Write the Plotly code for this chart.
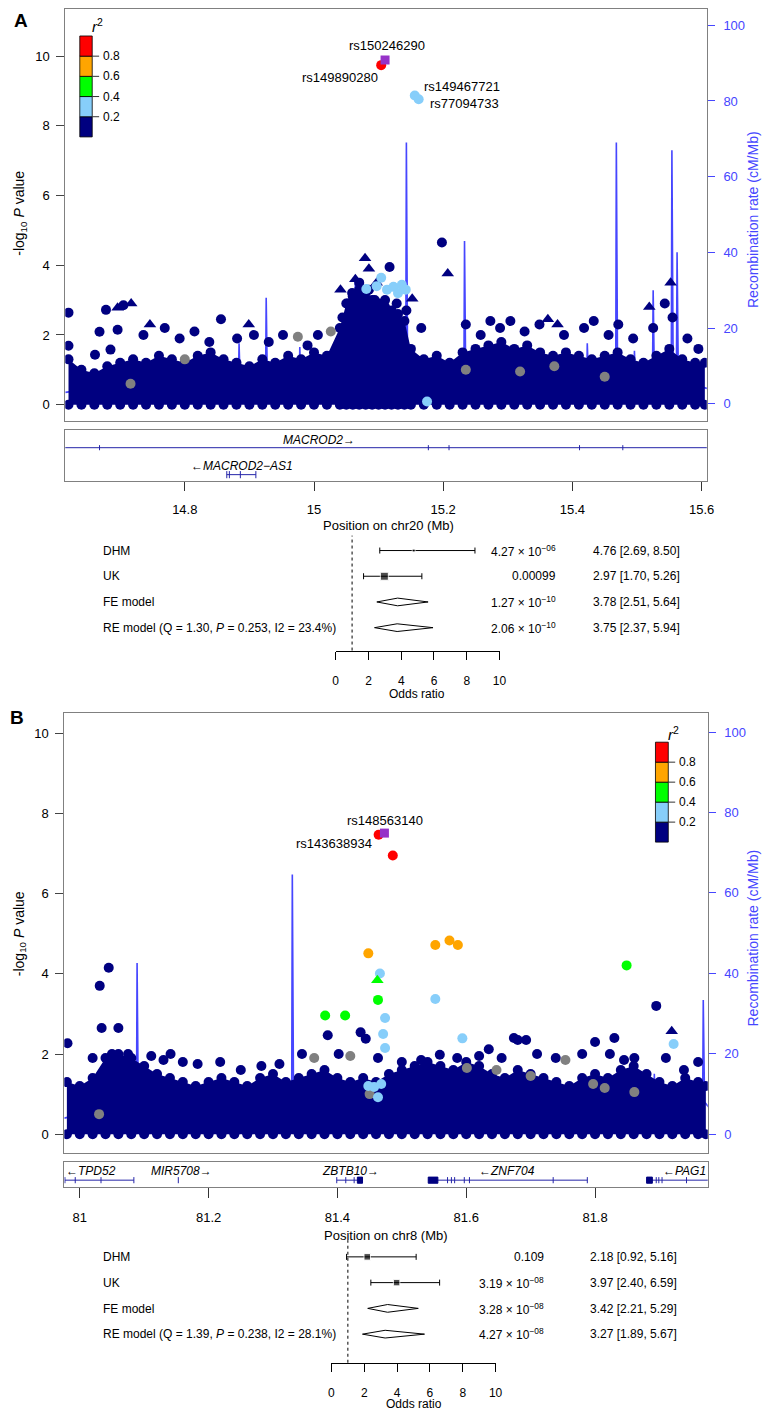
import plotly.graph_objects as go

W, H = 773, 1415
PAGE = 8  # default body margin of the html page
FONT = "Liberation Sans, Arial, Helvetica, sans-serif"
FRAME = "#808080"
BLUE = "#4646ff"
NAVY = "#000080"
LBLUE = "#87cefa"
GREEN = "#00ff00"
ORANGE = "#ffa500"
RED = "#ff0000"
PURPLE = "#9632c8"
GRAY = "#808080"
GENE = "#2424a8"

# LD key (r^2 bins, low to high)
ld_breaks = ["0.2", "0.4", "0.6", "0.8"]
ld_colors = [NAVY, LBLUE, GREEN, ORANGE, RED]

# ---------------- panel A : chr20 ----------------
a_xrange = [14.615, 15.608]
a_ticks = [14.8, 15.0, 15.2, 15.4, 15.6]
a_ticktext = ["14.8", "15", "15.2", "15.4", "15.6"]

# top edge of the dense cloud of low-LD SNPs
a_env_pos = [14.620, 14.640, 14.660, 14.680, 14.700, 14.720, 14.740, 14.760, 14.780, 14.800,
             14.820, 14.840, 14.860, 14.880, 14.900, 14.920, 14.940, 14.960, 14.980, 15.000,
             15.020, 15.040, 15.050, 15.060, 15.070, 15.080, 15.090, 15.100, 15.110, 15.120,
             15.130, 15.140, 15.150, 15.170, 15.190, 15.210, 15.230, 15.250, 15.270, 15.290,
             15.310, 15.330, 15.350, 15.370, 15.390, 15.410, 15.430, 15.450, 15.470, 15.490,
             15.510, 15.530, 15.550, 15.570, 15.590, 15.605]
a_env_logp = [1.3, 1.0, 0.9, 1.1, 1.2, 1.3, 1.2, 1.4, 1.3, 1.2,
              1.4, 1.5, 1.3, 1.2, 1.1, 1.3, 1.2, 1.4, 1.3, 1.5,
              1.4, 2.2, 2.9, 3.1, 3.3, 3.2, 3.0, 2.9, 2.8, 2.7,
              2.6, 2.4, 1.6, 1.3, 1.4, 1.2, 1.5, 1.6, 1.7, 1.8,
              1.6, 1.7, 1.5, 1.4, 1.5, 1.4, 1.3, 1.4, 1.5, 1.3,
              1.2, 1.4, 1.6, 1.3, 1.2, 1.2]

a_navy_pos = [14.620, 14.620, 14.678, 14.696, 14.668, 14.661, 14.685, 14.705, 14.736, 14.769,
              14.792, 14.815, 14.838, 14.856, 14.881, 14.907, 14.930, 14.952, 14.990, 15.006,
              15.044, 15.052, 15.059, 15.070, 15.085, 15.094, 15.117, 15.110, 15.128, 15.143,
              15.166, 15.198, 15.235, 15.258, 15.273, 15.288, 15.304, 15.326, 15.349, 15.387,
              15.418, 15.433, 15.456, 15.471, 15.494, 15.525, 15.543, 15.555, 15.578, 15.595]
a_navy_logp = [2.64, 1.69, 2.72, 2.15, 2.09, 1.43, 1.58, 2.85, 2.0, 2.2,
               1.9, 2.1, 1.8, 2.45, 1.9, 2.0, 1.8, 2.0, 1.7, 2.0,
               2.5, 2.9, 3.2, 3.5, 3.3, 3.0, 3.95, 3.0, 2.9, 2.7,
               2.2, 4.65, 2.3, 2.0, 2.4, 2.2, 2.4, 2.1, 2.3, 2.0,
               2.2, 2.4, 2.0, 2.3, 1.9, 2.2, 2.9, 2.5, 1.9, 1.6]
a_tri_pos = [14.696, 14.717, 14.746, 14.899, 15.041, 15.064, 15.079, 15.085, 15.097, 15.152,
             15.207, 15.362, 15.377, 15.519, 15.552]
a_tri_logp = [2.78, 2.9, 2.3, 2.3, 3.3, 3.6, 4.2, 3.9, 3.5, 3.04,
              3.76, 2.45, 2.3, 2.8, 3.5]
a_gray_pos = [14.975, 15.026, 14.800, 15.319, 15.372, 15.235, 14.716, 15.45]
a_gray_logp = [1.95, 2.1, 1.3, 0.95, 1.1, 1.0, 0.6, 0.8]
a_lblue_pos = [15.156, 15.162, 15.081, 15.104, 15.097, 15.113, 15.123, 15.136, 15.130, 15.142, 15.175]
a_lblue_logp = [8.87, 8.76, 3.32, 3.64, 3.4, 3.3, 3.38, 3.44, 3.2, 3.3, 0.09]
a_red_pos = [15.104]
a_red_logp = [9.74]
a_lead_pos = [15.110]
a_lead_logp = [9.89]

a_rec_pos = [14.615, 14.700, 14.750, 14.800, 14.883, 14.884, 14.886, 14.925, 14.926, 14.928,
             14.977, 14.978, 14.980, 15.020, 15.063, 15.064, 15.066, 15.100, 15.142, 15.143,
             15.145, 15.180, 15.232, 15.233, 15.235, 15.300, 15.353, 15.354, 15.356, 15.422,
             15.423, 15.425, 15.467, 15.468, 15.470, 15.495, 15.496, 15.498, 15.524, 15.525,
             15.527, 15.553, 15.554, 15.556, 15.561, 15.562, 15.564, 15.610]
a_rec_rate = [3, 5, 2, 4, 6, 16, 4, 5, 28, 3,
              4, 15, 3, 6, 8, 34, 10, 12, 10, 69,
              5, 3, 6, 43, 4, 3, 4, 14, 3, 5,
              16, 6, 4, 69, 5, 6, 14, 4, 8, 30,
              5, 6, 67, 8, 8, 40, 6, 4]

a_macrod2_span = [14.50, 15.70]
a_macrod2_exons = [14.668, 15.177, 15.209, 15.411, 15.478]
a_as1_span = [14.865, 14.910]
a_as1_exons = [14.865, 14.869, 14.886, 14.910]

a_studies = ["DHM", "UK", "FE model", "RE model (Q = 1.30, <i>P</i> = 0.253, I2 = 23.4%)"]
a_or = [4.76, 2.97, 3.78, 3.75]
a_lo = [2.69, 1.70, 2.51, 2.37]
a_hi = [8.50, 5.26, 5.64, 5.94]
a_p = ["4.27 × 10<sup>−06</sup>", "0.00099", "1.27 × 10<sup>−10</sup>", "2.06 × 10<sup>−10</sup>"]
a_ci = ["4.76 [2.69, 8.50]", "2.97 [1.70, 5.26]", "3.78 [2.51, 5.64]", "3.75 [2.37, 5.94]"]
a_wsize = [3, 8]

# ---------------- panel B : chr8 ----------------
b_xrange = [80.976, 81.975]
b_ticks = [81.0, 81.2, 81.4, 81.6, 81.8]
b_ticktext = ["81", "81.2", "81.4", "81.6", "81.8"]

b_env_pos = [80.98, 81.00, 81.02, 81.04, 81.06, 81.08, 81.10, 81.12, 81.14, 81.16,
             81.18, 81.20, 81.22, 81.24, 81.26, 81.28, 81.30, 81.32, 81.34, 81.36,
             81.38, 81.40, 81.42, 81.44, 81.46, 81.48, 81.50, 81.52, 81.54, 81.56,
             81.58, 81.60, 81.62, 81.64, 81.66, 81.68, 81.70, 81.72, 81.74, 81.76,
             81.78, 81.80, 81.82, 81.84, 81.86, 81.88, 81.90, 81.92, 81.94, 81.96, 81.972]
b_env_logp = [1.3, 1.2, 1.4, 1.9, 2.0, 1.9, 1.7, 1.5, 1.4, 1.3,
              1.2, 1.3, 1.4, 1.3, 1.2, 1.4, 1.5, 1.3, 1.4, 1.5,
              1.6, 1.4, 1.3, 1.4, 1.3, 1.5, 1.6, 1.7, 1.8, 1.7,
              1.6, 1.8, 1.7, 1.5, 1.4, 1.6, 1.5, 1.4, 1.3, 1.2,
              1.4, 1.5, 1.4, 1.6, 1.7, 1.5, 1.3, 1.2, 1.4, 1.3, 1.2]

b_navy_pos = [80.981, 81.031, 81.045, 81.034, 81.060, 81.020, 81.050, 81.075, 81.111, 81.130,
              81.141, 81.160, 81.183, 81.218, 81.250, 81.282, 81.310, 81.345, 81.385, 81.402,
              81.436, 81.444, 81.463, 81.500, 81.530, 81.559, 81.586, 81.620, 81.635, 81.655,
              81.674, 81.680, 81.693, 81.710, 81.739, 81.780, 81.800, 81.823, 81.830, 81.845,
              81.861, 81.895, 81.910, 81.938, 81.960]
b_navy_logp = [2.27, 3.70, 4.15, 2.65, 2.65, 1.9, 2.0, 2.0, 1.95, 1.85,
               2.0, 1.8, 1.75, 1.8, 1.6, 1.7, 1.75, 2.0, 2.47, 2.0,
               2.54, 2.38, 1.9, 1.8, 1.85, 1.98, 1.9, 1.95, 2.12, 1.9,
               2.40, 2.35, 2.35, 2.0, 1.9, 2.0, 2.3, 2.0, 2.4, 1.85,
               1.9, 3.2, 1.9, 1.6, 1.8]
b_tri_pos = [81.919]
b_tri_logp = [2.57]
b_gray_pos = [81.364, 81.420, 81.601, 81.647, 81.700, 81.754, 81.797, 81.815, 81.861, 81.030, 81.450]
b_gray_logp = [1.9, 1.95, 1.65, 1.6, 1.45, 1.85, 1.25, 1.15, 1.05, 0.5, 1.0]
b_lblue_pos = [81.466, 81.552, 81.474, 81.471, 81.474, 81.594, 81.922, 81.448, 81.457, 81.463, 81.468]
b_lblue_logp = [4.01, 3.37, 2.90, 2.50, 2.15, 2.39, 2.25, 1.20, 1.18, 0.92, 1.25]
b_green_pos = [81.463, 81.381, 81.412, 81.849]
b_green_logp = [3.35, 2.96, 2.96, 4.21]
b_gtri_pos = [81.462]
b_gtri_logp = [3.84]
b_orange_pos = [81.448, 81.552, 81.574, 81.587]
b_orange_logp = [4.51, 4.72, 4.83, 4.72]
b_red_pos = [81.464, 81.486]
b_red_logp = [7.47, 6.95]
b_lead_pos = [81.473]
b_lead_logp = [7.51]

b_rec_pos = [80.976, 81.030, 81.088, 81.089, 81.091, 81.150, 81.250, 81.329, 81.330, 81.332,
             81.400, 81.500, 81.626, 81.627, 81.629, 81.730, 81.731, 81.733, 81.800, 81.891,
             81.892, 81.894, 81.967, 81.968, 81.970, 81.980]
b_rec_rate = [4, 6, 5, 42.6, 5, 3, 4, 6, 64.6, 5,
              3, 4, 4, 12, 3, 4, 11, 3, 5, 5,
              15, 4, 6, 33.4, 8, 6]

b_tpd52_span = [80.977, 81.084]
b_tpd52_exons = [80.977, 80.993, 81.033, 81.084]
b_mir_exons = [81.153]
b_zbtb10_span = [81.399, 81.439]
b_zbtb10_exons = [81.399, 81.413, 81.426]
b_zbtb10_box = [81.431, 81.439]
b_znf704_span = [81.541, 81.788]
b_znf704_exons = [81.571, 81.577, 81.582, 81.597, 81.605, 81.735, 81.788]
b_znf704_box = [81.541, 81.556]
b_pag1_span = [81.880, 82.100]
b_pag1_exons = [81.895, 81.899, 81.904, 81.942]
b_pag1_box = [81.880, 81.889]

b_studies = ["DHM", "UK", "FE model", "RE model (Q = 1.39, <i>P</i> = 0.238, I2 = 28.1%)"]
b_or = [2.18, 3.97, 3.42, 3.27]
b_lo = [0.92, 2.40, 2.21, 1.89]
b_hi = [5.16, 6.59, 5.29, 5.67]
b_p = ["0.109", "3.19 × 10<sup>−08</sup>", "3.28 × 10<sup>−08</sup>", "4.27 × 10<sup>−08</sup>"]
b_ci = ["2.18 [0.92, 5.16]", "3.97 [2.40, 6.59]", "3.42 [2.21, 5.29]", "3.27 [1.89, 5.67]"]
b_wsize = [6.5, 6.5]

or_ticks = [0, 2, 4, 6, 8, 10]
logp_ticks = [0, 2, 4, 6, 8, 10]
rec_ticks = [0, 20, 40, 60, 80, 100]

# the figure sits PAGE px in from the page corner, so map page pixels onto it
FW, FH = W - PAGE, H - PAGE


def X(p):
    return min(1.0, max(0.0, (p - PAGE) / FW))


def Y(p):
    return min(1.0, max(0.0, 1 - (p - PAGE) / FH))


fig = go.Figure()
annotations = []
shapes = []


def note(text, x, y, size=13, xanchor="center", color="black", angle=0, yanchor="middle"):
    annotations.append(dict(text=text, x=X(x), y=Y(y), xref="paper", yref="paper",
                            showarrow=False, xanchor=xanchor, yanchor=yanchor,
                            textangle=angle, font=dict(size=size, color=color, family=FONT)))


def dots(x, y, color, xa, ya, symbol="circle", size=10):
    fig.add_trace(go.Scatter(x=x, y=y, mode="markers", xaxis=xa, yaxis=ya, hoverinfo="skip",
                             marker=dict(color=color, size=size, symbol=symbol, line=dict(width=0))))


def locus(xa, ya_rec, ya_p, env_pos, env_logp, rec_pos, rec_rate, groups):
    fig.add_trace(go.Scatter(x=rec_pos, y=rec_rate, mode="lines", xaxis=xa, yaxis=ya_rec,
                             line=dict(color=BLUE, width=1.6), hoverinfo="skip"))
    fig.add_trace(go.Scatter(x=env_pos, y=env_logp, mode="lines+markers", fill="tozeroy",
                             fillcolor=NAVY, line=dict(color=NAVY, width=0), xaxis=xa, yaxis=ya_p,
                             marker=dict(color=NAVY, size=10), hoverinfo="skip"))
    dots(env_pos, [0.0 for _ in env_pos], NAVY, xa, ya_p)
    for gx, gy, col, sym, sz in groups:
        dots(gx, gy, col, xa, ya_p, sym, sz)


def gene_line(xa, ya, span, exons, yc, half, box=None):
    fig.add_trace(go.Scatter(x=span, y=[yc, yc], mode="lines", xaxis=xa, yaxis=ya,
                             line=dict(color=GENE, width=1), hoverinfo="skip"))
    ex, ey = [], []
    for e in exons:
        ex += [e, e, None]
        ey += [yc - half, yc + half, None]
    fig.add_trace(go.Scatter(x=ex, y=ey, mode="lines", xaxis=xa, yaxis=ya,
                             line=dict(color=GENE, width=1), hoverinfo="skip"))
    if box:
        fig.add_trace(go.Scatter(x=[box[0], box[1], box[1], box[0], box[0]],
                                 y=[yc - half, yc - half, yc + half, yc + half, yc - half],
                                 mode="lines", fill="toself", fillcolor=NAVY, xaxis=xa, yaxis=ya,
                                 line=dict(color=NAVY, width=1), hoverinfo="skip"))


def forest(xa, ya, ors, los, his, wsize):
    fig.add_trace(go.Scatter(x=ors[:2], y=[0, 1], mode="markers", xaxis=xa, yaxis=ya,
                             marker=dict(symbol="square", size=wsize, color="black"),
                             error_x=dict(type="data", symmetric=False,
                                          array=[h - o for h, o in zip(his[:2], ors[:2])],
                                          arrayminus=[o - l for o, l in zip(ors[:2], los[:2])],
                                          color="black", thickness=1, width=3),
                             hoverinfo="skip"))
    for i in (2, 3):
        fig.add_trace(go.Scatter(x=[los[i], ors[i], his[i], ors[i], los[i]],
                                 y=[i, i - 0.15, i, i + 0.15, i], mode="lines", fill="toself",
                                 fillcolor="white", line=dict(color="black", width=1),
                                 xaxis=xa, yaxis=ya, hoverinfo="skip"))
    shapes.append(dict(type="line", xref=xa, yref=ya + " domain", x0=1, x1=1, y0=0, y1=1,
                       line=dict(color="black", width=1, dash="dot")))


def ld_key(x0, x1, top, band):
    for i, c in enumerate(ld_colors):
        y0 = top + (4 - i) * band
        shapes.append(dict(type="rect", xref="paper", yref="paper", x0=X(x0), x1=X(x1),
                           y0=Y(y0 + band), y1=Y(y0), fillcolor=c,
                           line=dict(color="black", width=0.8)))
    for k, lab in enumerate(ld_breaks):
        yb = top + (4 - k) * band
        shapes.append(dict(type="line", xref="paper", yref="paper", x0=X(x1), x1=X(x1 + 7),
                           y0=Y(yb), y1=Y(yb), line=dict(color="#333333", width=1)))
        note(lab, x1 + 9, yb, size=12, xanchor="left")


# ---- panel A traces ----
locus("x", "y", "y2", a_env_pos, a_env_logp, a_rec_pos, a_rec_rate, [
    (a_navy_pos, a_navy_logp, NAVY, "circle", 10),
    (a_tri_pos, a_tri_logp, NAVY, "triangle-up", 11),
    (a_gray_pos, a_gray_logp, GRAY, "circle", 10),
    (a_lblue_pos, a_lblue_logp, LBLUE, "circle", 10),
    (a_red_pos, a_red_logp, RED, "circle", 10),
    (a_lead_pos, a_lead_logp, PURPLE, "square", 9),
])
gene_line("x2", "y3", a_macrod2_span, a_macrod2_exons, 0.647, 0.05)
gene_line("x2", "y3", a_as1_span, a_as1_exons, 0.118, 0.07)
forest("x3", "y4", a_or, a_lo, a_hi, a_wsize)

# ---- panel B traces ----
locus("x4", "y5", "y6", b_env_pos, b_env_logp, b_rec_pos, b_rec_rate, [
    (b_navy_pos, b_navy_logp, NAVY, "circle", 10),
    (b_tri_pos, b_tri_logp, NAVY, "triangle-up", 11),
    (b_gray_pos, b_gray_logp, GRAY, "circle", 10),
    (b_lblue_pos, b_lblue_logp, LBLUE, "circle", 10),
    (b_green_pos, b_green_logp, GREEN, "circle", 10),
    (b_gtri_pos, b_gtri_logp, GREEN, "triangle-up", 11),
    (b_orange_pos, b_orange_logp, ORANGE, "circle", 10),
    (b_red_pos, b_red_logp, RED, "circle", 10),
    (b_lead_pos, b_lead_logp, PURPLE, "square", 9),
])
gene_line("x5", "y7", b_tpd52_span, b_tpd52_exons, 0.285, 0.12)
gene_line("x5", "y7", [b_mir_exons[0], b_mir_exons[0]], b_mir_exons, 0.285, 0.12)
gene_line("x5", "y7", b_zbtb10_span, b_zbtb10_exons, 0.285, 0.12, b_zbtb10_box)
gene_line("x5", "y7", b_znf704_span, b_znf704_exons, 0.285, 0.12, b_znf704_box)
gene_line("x5", "y7", b_pag1_span, b_pag1_exons, 0.285, 0.12, b_pag1_box)
forest("x6", "y8", b_or, b_lo, b_hi, b_wsize)

# ---- text ----
note("<b>A</b>", 18, 20, size=19)
note("<b>B</b>", 14, 717, size=19)

for lab, x, y in [("rs150246290", 388.7, 45), ("rs149890280", 341.3, 77),
                  ("rs149467721", 464.5, 86), ("rs77094733", 468, 103),
                  ("rs148563140", 386.7, 820), ("rs143638934", 335, 843)]:
    note(lab, x, y, size=13)

note("-log<sub>10</sub> <i>P</i> value", 17, 212, size=14, angle=-90)
note("-log<sub>10</sub> <i>P</i> value", 17, 933, size=14, angle=-90)
note("Recombination rate (cM/Mb)", 760, 219, size=14, angle=-90, color=BLUE)
note("Recombination rate (cM/Mb)", 760, 938, size=14, angle=-90, color=BLUE)
note("Position on chr20 (Mb)", 390, 525, size=13)
note("Position on chr8 (Mb)", 388, 1235, size=13)
note("Odds ratio", 419, 693, size=12)
note("Odds ratio", 416, 1404, size=12)

note("<i>r</i><sup>2</sup>", 96, 25, size=15)
note("<i>r</i><sup>2</sup>", 679, 733, size=15)
ld_key(77.7, 90.3, 35, 20.2)
ld_key(661, 674, 741.7, 20)

# gene labels
note("<i>MACROD2</i>→", 320.5, 439, size=12)
note("←<i>MACROD2−AS1</i>", 242, 465, size=12)
for lab, x in [("←<i>TPD52</i>", 88.6), ("<i>MIR5708</i>→", 180.7), ("<i>ZBTB10</i>→", 352),
               ("←<i>ZNF704</i>", 510.6), ("←<i>PAG1</i>", 690.6)]:
    note(lab, x, 1171, size=12)

# forest text
rows_a = [550, 575.7, 601.4, 627]
rows_b = [1256.7, 1282.5, 1308.5, 1334]
for i in range(4):
    note(a_studies[i], 99, rows_a[i], size=12, xanchor="left")
    note(a_p[i], 562, rows_a[i], size=12, xanchor="right")
    note(a_ci[i], 688, rows_a[i], size=12, xanchor="right")
    note(b_studies[i], 99, rows_b[i], size=12, xanchor="left")
    note(b_p[i], 550, rows_b[i], size=12, xanchor="right")
    note(b_ci[i], 685, rows_b[i], size=12, xanchor="right")

frame = dict(showline=True, mirror=True, linecolor=FRAME, linewidth=1, showgrid=False, zeroline=False)
plain = dict(showgrid=False, zeroline=False)

fig.update_layout(
    width=FW, height=FH, margin=dict(l=0, r=0, t=0, b=0),
    paper_bgcolor="white", plot_bgcolor="white", showlegend=False,
    font=dict(family=FONT, size=13, color="black"),
    annotations=annotations, shapes=shapes,
    # panel A locus
    xaxis=dict(domain=[X(63), X(713)], range=a_xrange, anchor="y", showticklabels=False,
               ticks="", **frame),
    yaxis=dict(domain=[Y(420), Y(8)], range=[-4.49, 104.3], anchor="x", side="right",
               tickvals=rec_ticks, ticks="outside", ticklen=7, tickcolor=BLUE,
               tickfont=dict(color=BLUE, size=13), ticklabelstandoff=6, **frame),
    yaxis2=dict(overlaying="y", anchor="x", side="left", range=[-0.46, 11.35],
                tickvals=logp_ticks, ticks="outside", ticklen=8, tickcolor="#444444",
                tickfont=dict(size=13), ticklabelstandoff=4, showline=False, **plain),
    # panel A genes
    xaxis2=dict(domain=[X(63), X(713)], range=a_xrange, anchor="y3", tickvals=a_ticks,
                ticktext=a_ticktext, ticks="outside", ticklen=9, tickcolor="#333333",
                tickfont=dict(size=13), ticklabelstandoff=8, **frame),
    yaxis3=dict(domain=[Y(480), Y(429)], range=[0, 1], anchor="x2", showticklabels=False,
                ticks="", **frame),
    # panel A forest
    xaxis3=dict(domain=[X(337), X(503)], range=[0, 10], anchor="y4", tickvals=or_ticks,
                ticks="outside", ticklen=8, tickcolor="black", showline=True, linecolor="black",
                tickfont=dict(size=12), ticklabelstandoff=11, **plain),
    yaxis4=dict(domain=[Y(650), Y(535)], range=[3.89, -0.58], anchor="x3", visible=False),
    # panel B locus
    xaxis4=dict(domain=[X(62), X(714)], range=b_xrange, anchor="y5", showticklabels=False,
                ticks="", **frame),
    yaxis5=dict(domain=[Y(1152.7), Y(712.7)], range=[-4.65, 104.7], anchor="x4", side="right",
                tickvals=rec_ticks, ticks="outside", ticklen=7, tickcolor=BLUE,
                tickfont=dict(color=BLUE, size=13), ticklabelstandoff=6, **frame),
    yaxis6=dict(overlaying="y5", anchor="x4", side="left", range=[-0.466, 10.5],
                tickvals=logp_ticks, ticks="outside", ticklen=8, tickcolor="#444444",
                tickfont=dict(size=13), ticklabelstandoff=4, showline=False, **plain),
    # panel B genes
    xaxis5=dict(domain=[X(62), X(714)], range=b_xrange, anchor="y7", tickvals=b_ticks,
                ticktext=b_ticktext, ticks="outside", ticklen=10, tickcolor="#333333",
                tickfont=dict(size=13), ticklabelstandoff=8, **frame),
    yaxis7=dict(domain=[Y(1187.3), Y(1161.7)], range=[0, 1], anchor="x5", showticklabels=False,
                ticks="", **frame),
    # panel B forest
    xaxis6=dict(domain=[X(332.7), X(499)], range=[0, 10], anchor="y8", tickvals=or_ticks,
                ticks="outside", ticklen=8, tickcolor="black", showline=True, linecolor="black",
                tickfont=dict(size=12), ticklabelstandoff=11, **plain),
    yaxis8=dict(domain=[Y(1362.7), Y(1240)], range=[4.11, -0.65], anchor="x6", visible=False),
)

fig.write_html("out.html")
